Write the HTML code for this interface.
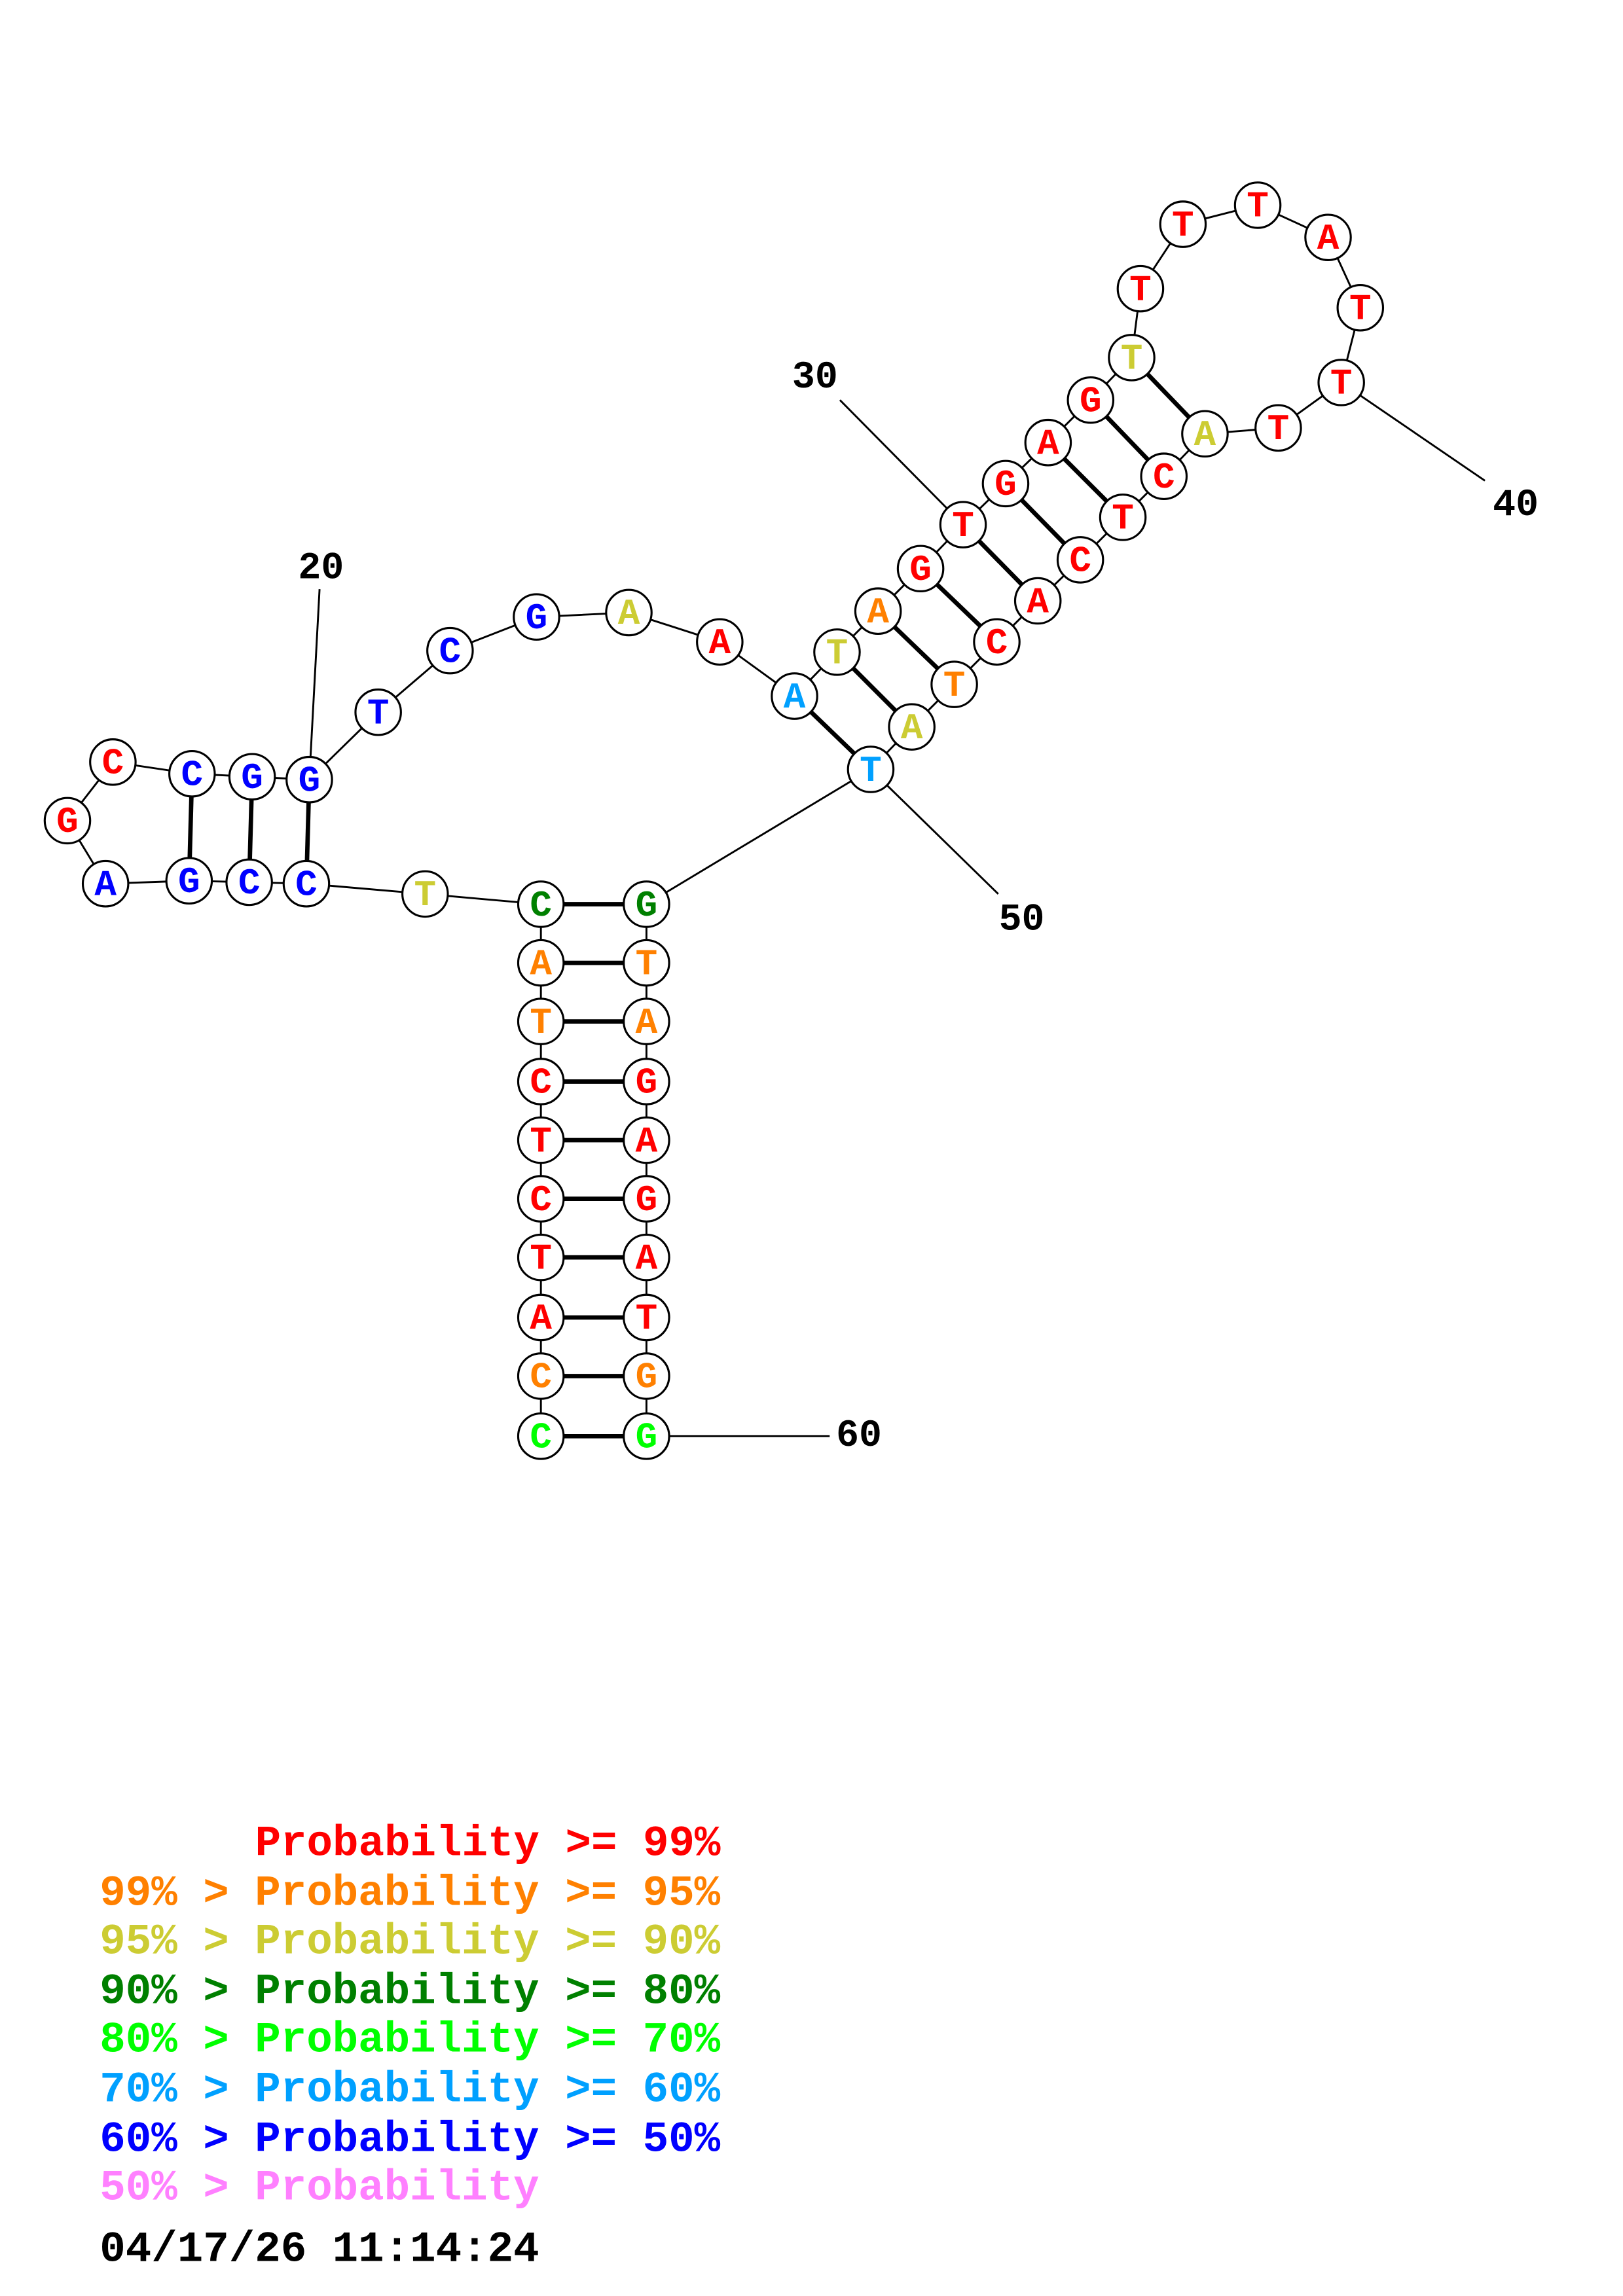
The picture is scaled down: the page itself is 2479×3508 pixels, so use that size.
<!DOCTYPE html>
<html><head><meta charset="utf-8"><style>html,body{margin:0;padding:0;background:#fff}svg{display:block}</style></head><body>
<svg xmlns="http://www.w3.org/2000/svg" width="2479" height="3508" viewBox="0 0 1107.2 1566.7" preserveAspectRatio="none">
<rect width="1107.2" height="1566.7" fill="#fff"/>
<g stroke="#000" stroke-width="1.3" fill="none">
<polyline points="369,980 369,939 369,899 369,858 369,818 369,778 369,738 369,697 369,657 369,617 290,610 209,603 170,602 129,601 72,603 46,560 77,520 131,528 172,530 211,532 258,486 307,444 366,421 429,418 491,438 542,475 571,445 599,417 628,388 657,358 686,330 715,302 744,273 772,244 778,197 807,153 858,140 906,162 928,210 915,261 872,292 822,296 794,325 766,353 737,382 708,410 680,438 651,467 622,496 594,525 441,617 441,657 441,697 441,738 441,778 441,818 441,858 441,899 441,939 441,980"/>
<line x1="211" y1="532" x2="218" y2="402"/>
<line x1="657" y1="358" x2="573" y2="273"/>
<line x1="915" y1="261" x2="1013" y2="328"/>
<line x1="594" y1="525" x2="681" y2="610"/>
<line x1="441" y1="980" x2="566" y2="980"/>
</g>
<g stroke="#000" stroke-width="3">
<line x1="131" y1="528" x2="129" y2="601"/><line x1="172" y1="530" x2="170" y2="602"/><line x1="211" y1="532" x2="209" y2="603"/>
<line x1="542" y1="475" x2="594" y2="525"/><line x1="571" y1="445" x2="622" y2="496"/><line x1="599" y1="417" x2="651" y2="467"/>
<line x1="628" y1="388" x2="680" y2="438"/><line x1="657" y1="358" x2="708" y2="410"/><line x1="686" y1="330" x2="737" y2="382"/>
<line x1="715" y1="302" x2="766" y2="353"/><line x1="744" y1="273" x2="794" y2="325"/><line x1="772" y1="244" x2="822" y2="296"/>
<line x1="369" y1="617" x2="441" y2="617"/><line x1="369" y1="657" x2="441" y2="657"/><line x1="369" y1="697" x2="441" y2="697"/>
<line x1="369" y1="738" x2="441" y2="738"/><line x1="369" y1="778" x2="441" y2="778"/><line x1="369" y1="818" x2="441" y2="818"/>
<line x1="369" y1="858" x2="441" y2="858"/><line x1="369" y1="899" x2="441" y2="899"/><line x1="369" y1="939" x2="441" y2="939"/>
<line x1="369" y1="980" x2="441" y2="980"/>
</g>
<g fill="#fff" stroke="#000" stroke-width="1.4">
<circle cx="46" cy="560" r="15.5"/><circle cx="77" cy="520" r="15.5"/><circle cx="131" cy="528" r="15.5"/><circle cx="172" cy="530" r="15.5"/><circle cx="211" cy="532" r="15.5"/><circle cx="258" cy="486" r="15.5"/><circle cx="307" cy="444" r="15.5"/><circle cx="366" cy="421" r="15.5"/><circle cx="429" cy="418" r="15.5"/><circle cx="491" cy="438" r="15.5"/><circle cx="542" cy="475" r="15.5"/><circle cx="571" cy="445" r="15.5"/><circle cx="599" cy="417" r="15.5"/><circle cx="628" cy="388" r="15.5"/><circle cx="657" cy="358" r="15.5"/><circle cx="686" cy="330" r="15.5"/><circle cx="715" cy="302" r="15.5"/><circle cx="744" cy="273" r="15.5"/><circle cx="772" cy="244" r="15.5"/><circle cx="778" cy="197" r="15.5"/><circle cx="807" cy="153" r="15.5"/><circle cx="858" cy="140" r="15.5"/><circle cx="906" cy="162" r="15.5"/><circle cx="928" cy="210" r="15.5"/><circle cx="915" cy="261" r="15.5"/><circle cx="872" cy="292" r="15.5"/><circle cx="822" cy="296" r="15.5"/><circle cx="794" cy="325" r="15.5"/><circle cx="766" cy="353" r="15.5"/><circle cx="737" cy="382" r="15.5"/><circle cx="708" cy="410" r="15.5"/><circle cx="680" cy="438" r="15.5"/><circle cx="651" cy="467" r="15.5"/><circle cx="622" cy="496" r="15.5"/><circle cx="594" cy="525" r="15.5"/>
<circle cx="441" cy="617" r="15.5"/><circle cx="441" cy="657" r="15.5"/><circle cx="441" cy="697" r="15.5"/><circle cx="441" cy="738" r="15.5"/><circle cx="441" cy="778" r="15.5"/><circle cx="441" cy="818" r="15.5"/><circle cx="441" cy="858" r="15.5"/><circle cx="441" cy="899" r="15.5"/><circle cx="441" cy="939" r="15.5"/><circle cx="441" cy="980" r="15.5"/>
<circle cx="369" cy="617" r="15.5"/><circle cx="369" cy="657" r="15.5"/><circle cx="369" cy="697" r="15.5"/><circle cx="369" cy="738" r="15.5"/><circle cx="369" cy="778" r="15.5"/><circle cx="369" cy="818" r="15.5"/><circle cx="369" cy="858" r="15.5"/><circle cx="369" cy="899" r="15.5"/><circle cx="369" cy="939" r="15.5"/><circle cx="369" cy="980" r="15.5"/>
<circle cx="290" cy="610" r="15.5"/><circle cx="209" cy="603" r="15.5"/><circle cx="170" cy="602" r="15.5"/><circle cx="129" cy="601" r="15.5"/><circle cx="72" cy="603" r="15.5"/>
</g>
<g font-family="Liberation Mono, monospace" font-weight="bold" font-size="25" text-anchor="middle" dominant-baseline="central">
<text x="46" y="561" fill="#f00">G</text><text x="77" y="521" fill="#f00">C</text><text x="131" y="529" fill="#00f">C</text><text x="172" y="531" fill="#00f">G</text><text x="211" y="533" fill="#00f">G</text><text x="258" y="487" fill="#00f">T</text><text x="307" y="445" fill="#00f">C</text><text x="366" y="422" fill="#00f">G</text><text x="429" y="419" fill="#cc3">A</text><text x="491" y="439" fill="#f00">A</text><text x="542" y="476" fill="#00a0ff">A</text><text x="571" y="446" fill="#cc3">T</text><text x="599" y="418" fill="#ff8000">A</text><text x="628" y="389" fill="#f00">G</text><text x="657" y="359" fill="#f00">T</text><text x="686" y="331" fill="#f00">G</text><text x="715" y="303" fill="#f00">A</text><text x="744" y="274" fill="#f00">G</text><text x="772" y="245" fill="#cc3">T</text><text x="778" y="198" fill="#f00">T</text><text x="807" y="154" fill="#f00">T</text><text x="858" y="141" fill="#f00">T</text><text x="906" y="163" fill="#f00">A</text><text x="928" y="211" fill="#f00">T</text><text x="915" y="262" fill="#f00">T</text><text x="872" y="293" fill="#f00">T</text><text x="822" y="297" fill="#cc3">A</text><text x="794" y="326" fill="#f00">C</text><text x="766" y="354" fill="#f00">T</text><text x="737" y="383" fill="#f00">C</text><text x="708" y="411" fill="#f00">A</text><text x="680" y="439" fill="#f00">C</text><text x="651" y="468" fill="#ff8000">T</text><text x="622" y="497" fill="#cc3">A</text><text x="594" y="526" fill="#00a0ff">T</text>
<text x="441" y="618" fill="#008000">G</text><text x="441" y="658" fill="#ff8000">T</text><text x="441" y="698" fill="#ff8000">A</text><text x="441" y="739" fill="#f00">G</text><text x="441" y="779" fill="#f00">A</text><text x="441" y="819" fill="#f00">G</text><text x="441" y="859" fill="#f00">A</text><text x="441" y="900" fill="#f00">T</text><text x="441" y="940" fill="#ff8000">G</text><text x="441" y="981" fill="#0f0">G</text>
<text x="369" y="618" fill="#008000">C</text><text x="369" y="658" fill="#ff8000">A</text><text x="369" y="698" fill="#ff8000">T</text><text x="369" y="739" fill="#f00">C</text><text x="369" y="779" fill="#f00">T</text><text x="369" y="819" fill="#f00">C</text><text x="369" y="859" fill="#f00">T</text><text x="369" y="900" fill="#f00">A</text><text x="369" y="940" fill="#ff8000">C</text><text x="369" y="981" fill="#0f0">C</text>
<text x="290" y="611" fill="#cc3">T</text><text x="209" y="604" fill="#00f">C</text><text x="170" y="603" fill="#00f">C</text><text x="129" y="602" fill="#00f">G</text><text x="72" y="604" fill="#00f">A</text>
</g>
<g font-family="Liberation Mono, monospace" font-weight="bold" font-size="26" fill="#000" text-anchor="middle" dominant-baseline="central">
<text x="219" y="388">20</text><text x="556" y="258">30</text><text x="1034" y="345">40</text><text x="697" y="628">50</text><text x="586" y="980">60</text>
</g>
<g font-family="Liberation Mono, monospace" font-weight="bold" font-size="29.4" dominant-baseline="central" style="white-space:pre">
<text x="174" y="1258" fill="#f00">Probability &gt;= 99%</text>
<text x="68" y="1292" fill="#ff8000">99% &gt; Probability &gt;= 95%</text>
<text x="68" y="1325" fill="#cc3">95% &gt; Probability &gt;= 90%</text>
<text x="68" y="1359" fill="#008000">90% &gt; Probability &gt;= 80%</text>
<text x="68" y="1392" fill="#0f0">80% &gt; Probability &gt;= 70%</text>
<text x="68" y="1426" fill="#00a0ff">70% &gt; Probability &gt;= 60%</text>
<text x="68" y="1460" fill="#00f">60% &gt; Probability &gt;= 50%</text>
<text x="68" y="1493" fill="#ff80ff">50% &gt; Probability</text>
<text x="68" y="1535" fill="#000">04/17/26 11:14:24</text>
</g>
</svg>
</body></html>
